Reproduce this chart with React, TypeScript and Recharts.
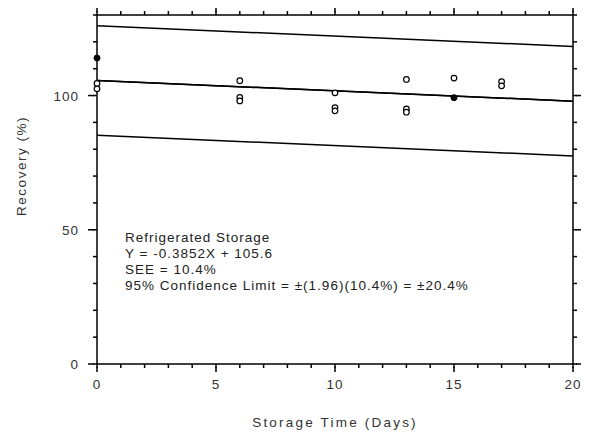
import React from "react";
import { ComposedChart, XAxis, YAxis, Line, Scatter } from "recharts";

// regression line endpoints (Y = -0.3852X + 105.6, ±20.4%)
const lineX = [0, 20];
const fitY = [105.6, 97.9];
const upperY = [126.0, 118.3];
const lowerY = [85.2, 77.5];

// open-circle samples
const openX = [0, 0, 6, 6, 6, 10, 10, 10, 13, 13, 13, 15, 17, 17];
const openY = [104.5, 102.5, 105.5, 99.3, 98.0, 101.0, 95.5, 94.3, 106.0, 95.0, 93.8, 106.5, 105.2, 103.6];

// filled (overlapping) samples
const solidX = [0, 15];
const solidY = [114.0, 99.2];

const xTicks = Array.from({ length: 21 }, (_, i) => i);
const yTicks = [0, 10, 20, 30, 40, 50, 60, 70, 80, 90, 100, 110, 120, 130];

const lineData = lineX.map((x, i) => ({ x, fit: fitY[i], upper: upperY[i], lower: lowerY[i] }));
const openData = openX.map((x, i) => ({ x, y: openY[i] }));
const solidData = solidX.map((x, i) => ({ x, y: solidY[i] }));

const FONT = "'Liberation Sans', Arial, sans-serif";
const TXT = "#333";
const TICK = 4;
const axisLine = { stroke: "#000", strokeWidth: 1.5 };
const tickLine = { stroke: "#000", strokeWidth: 1.5 };

// p.x / p.y arrive already offset by the minor tick length
const BottomTick = (p: any) => {
  const major = p.payload.value % 5 === 0;
  if (!major) return <g />;
  return (
    <g>
      <path d={`M${p.x},${p.y - 1}V${p.y + 4}`} stroke="#000" strokeWidth={1.5} fill="none" />
      <text x={p.x} y={p.y + 21} textAnchor="middle" fontSize={13.5} letterSpacing={1} fontFamily={FONT} fill={TXT}>
        {p.payload.value}
      </text>
    </g>
  );
};

const TopTick = (p: any) => {
  const major = p.payload.value % 5 === 0;
  if (!major) return <g />;
  return <path d={`M${p.x},${p.y + 1}V${p.y - 4}`} stroke="#000" strokeWidth={1.5} fill="none" />;
};

const LeftTick = (p: any) => {
  const major = p.payload.value % 50 === 0;
  if (!major) return <g />;
  return (
    <g>
      <path d={`M${p.x + 1},${p.y}H${p.x - 5}`} stroke="#000" strokeWidth={1.5} fill="none" />
      <text x={p.x - 14} y={p.y + 5} textAnchor="end" fontSize={13.5} letterSpacing={1} fontFamily={FONT} fill={TXT}>
        {p.payload.value}
      </text>
    </g>
  );
};

const RightTick = (p: any) => {
  const major = p.payload.value % 50 === 0;
  if (!major) return <g />;
  return <path d={`M${p.x - 1},${p.y}H${p.x + 4}`} stroke="#000" strokeWidth={1.5} fill="none" />;
};

const OpenDot = (p: any) => <circle cx={p.cx} cy={p.cy} r={2.8} fill="#fff" stroke="#000" strokeWidth={1.2} />;
const SolidDot = (p: any) => <circle cx={p.cx} cy={p.cy} r={3} fill="#000" stroke="#000" strokeWidth={1} />;

const notes = [
  "Refrigerated Storage",
  "Y = -0.3852X + 105.6",
  "SEE = 10.4%",
  "95% Confidence Limit = \u00b1(1.96)(10.4%) = \u00b120.4%",
];

export default function App() {
  return (
    <div style={{ position: "relative", width: 581, height: 432, background: "#fff" }}>
      <ComposedChart width={581} height={432} margin={{ top: 6, right: 15, bottom: 46, left: 59 }}>
        <XAxis
          xAxisId={0}
          type="number"
          dataKey="x"
          domain={[0, 20]}
          ticks={xTicks}
          interval={0}
          height={30}
          tickSize={TICK}
          tickMargin={0}
          tickLine={tickLine}
          tick={BottomTick}
          axisLine={axisLine}
        />
        <XAxis
          xAxisId="top"
          orientation="top"
          type="number"
          dataKey="x"
          domain={[0, 20]}
          ticks={xTicks}
          interval={0}
          height={1}
          tickSize={TICK}
          tickMargin={0}
          tickLine={tickLine}
          tick={TopTick}
          axisLine={axisLine}
        />
        <YAxis
          yAxisId={0}
          type="number"
          domain={[0, 130]}
          ticks={yTicks}
          interval={0}
          width={30}
          tickSize={TICK}
          tickMargin={0}
          tickLine={tickLine}
          tick={LeftTick}
          axisLine={axisLine}
        />
        <YAxis
          yAxisId="right"
          orientation="right"
          type="number"
          domain={[0, 130]}
          ticks={yTicks}
          interval={0}
          width={1}
          tickSize={TICK}
          tickMargin={0}
          tickLine={tickLine}
          tick={RightTick}
          axisLine={axisLine}
        />
        <Line data={lineData} dataKey="upper" type="linear" stroke="#000" strokeWidth={1.5} dot={false} isAnimationActive={false} />
        <Line data={lineData} dataKey="fit" type="linear" stroke="#000" strokeWidth={1.5} dot={false} isAnimationActive={false} />
        <Line data={lineData} dataKey="lower" type="linear" stroke="#000" strokeWidth={1.5} dot={false} isAnimationActive={false} />
        {/* same fit line on the mirrored frame axes, so they get a domain */}
        <Line
          data={lineData}
          dataKey="fit"
          xAxisId="top"
          yAxisId="right"
          type="linear"
          stroke="#000"
          strokeWidth={1.5}
          dot={false}
          isAnimationActive={false}
        />
        <Scatter data={openData} dataKey="y" shape={OpenDot} isAnimationActive={false} />
        <Scatter data={solidData} dataKey="y" shape={SolidDot} isAnimationActive={false} />
      </ComposedChart>
      <div
        style={{
          position: "absolute",
          left: 117,
          top: 222,
          fontFamily: FONT,
          fontSize: 13.5,
          letterSpacing: 1,
          lineHeight: "16px",
          color: "#222",
          whiteSpace: "nowrap",
        }}
      >
        {notes.map((n) => (
          <div key={n}>{n}</div>
        ))}
      </div>
      <div
        style={{
          position: "absolute",
          left: 13,
          top: 158,
          transform: "translate(-50%, -50%) rotate(-90deg)",
          fontFamily: FONT,
          fontSize: 13.5,
          letterSpacing: 1.5,
          color: TXT,
          whiteSpace: "nowrap",
        }}
      >
        Recovery (%)
      </div>
      <div
        style={{
          position: "absolute",
          left: 327,
          top: 414,
          transform: "translate(-50%, -50%)",
          fontFamily: FONT,
          fontSize: 13.5,
          letterSpacing: 2.2,
          color: TXT,
          whiteSpace: "nowrap",
        }}
      >
        Storage Time (Days)
      </div>
    </div>
  );
}
